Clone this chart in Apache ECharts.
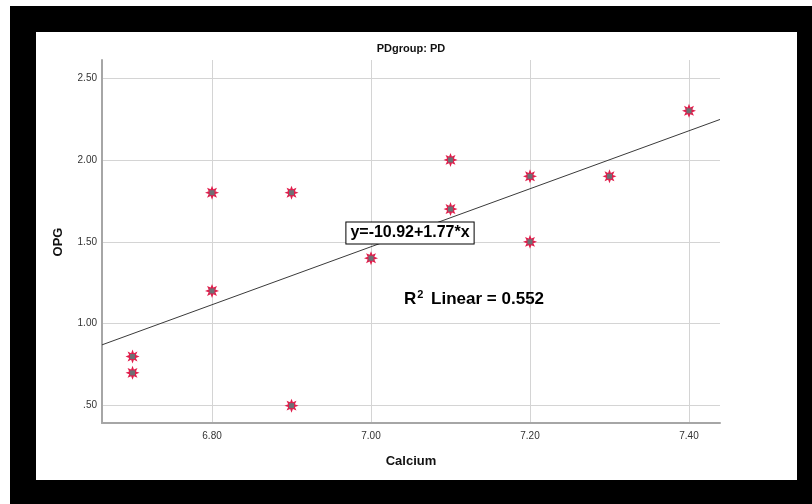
<!DOCTYPE html>
<html>
<head>
<meta charset="utf-8">
<script src="https://cdn.jsdelivr.net/npm/echarts@6/dist/echarts.min.js"></script>
<style>
  html, body { margin: 0; padding: 0; background: #ffffff; }
  #chart { width: 812px; height: 504px; }
</style>
</head>
<body>
<div id="chart"></div>
<script>
// ---- data ----
const calcium = [6.7, 6.7, 6.8, 6.8, 6.9, 6.9, 7.0, 7.1, 7.1, 7.2, 7.2, 7.3, 7.4];
const opg     = [0.8, 0.7, 1.8, 1.2, 1.8, 0.5, 1.4, 2.0, 1.7, 1.9, 1.5, 1.9, 2.3];
const xTicks = [6.8, 7.0, 7.2, 7.4];
const yTicks = [0.5, 1.0, 1.5, 2.0, 2.5];
const fitIntercept = -10.92;
const fitSlope = 1.77;
const rSquared = 0.552;
const titleText = 'PDgroup: PD';
const xName = 'Calcium';
const yName = 'OPG';

const xMin = 6.6616, xMax = 7.439;
const yMin = 0.394, yMax = 2.61;

const points = calcium.map((x, i) => [x, opg[i]]);
const fitLine = [xMin, xMax].map(x => [x, fitIntercept + fitSlope * x]);

// 8-pointed star symbol
function starPath(n, rOuter, rInner) {
  let d = '';
  for (let i = 0; i < n * 2; i++) {
    const r = i % 2 === 0 ? rOuter : rInner;
    const a = Math.PI * i / n - Math.PI / 2;
    const px = (r * Math.cos(a)).toFixed(3), py = (r * Math.sin(a)).toFixed(3);
    d += (i === 0 ? 'M' : 'L') + px + ' ' + py + ' ';
  }
  return 'path://' + d + 'Z';
}
const star = starPath(8, 10, 5.2);

const chart = echarts.init(document.getElementById('chart'), null, { renderer: 'canvas' });

const fmtY = v => v.toFixed(2).replace(/^0\./, '.');

chart.setOption({
  animation: false,
  backgroundColor: '#ffffff',
  grid: { left: 102, right: 92, top: 60, bottom: 81, containLabel: false },
  xAxis: {
    type: 'value', min: xMin, max: xMax,
    axisLine: { show: true, lineStyle: { color: '#a6a6a6', width: 2 } },
    axisTick: { show: false, customValues: xTicks },
    axisLabel: { customValues: xTicks, formatter: v => v.toFixed(2), color: '#333', fontSize: 10, fontFamily: 'Liberation Sans, Arial, sans-serif', margin: 8 },
    splitLine: { show: true, lineStyle: { color: '#d4d4d4', width: 1 } }
  },
  yAxis: {
    type: 'value', min: yMin, max: yMax,
    axisLine: { show: true, lineStyle: { color: '#a6a6a6', width: 2 } },
    axisTick: { show: false, customValues: yTicks },
    axisLabel: { customValues: yTicks, formatter: fmtY, color: '#333', fontSize: 10, fontFamily: 'Liberation Sans, Arial, sans-serif', margin: 5 },
    splitLine: { show: true, lineStyle: { color: '#d4d4d4', width: 1 } }
  },
  series: [
    {
      type: 'line', data: fitLine, symbol: 'none', silent: true,
      lineStyle: { color: '#3a3a3a', width: 1 }, z: 2
    },
    {
      type: 'scatter', data: points, symbol: star, symbolSize: 14,
      itemStyle: { color: '#e01e4c', opacity: 1 }, z: 3
    },
    {
      type: 'scatter', data: points, symbol: 'rect', symbolSize: 5,
      itemStyle: { color: '#6f6f74', opacity: 1 }, z: 4
    }
  ],
  graphic: [
    { type: 'rect', shape: { x: 10, y: 6, width: 802, height: 498 }, style: { fill: '#000' }, z: -10, silent: true },
    { type: 'rect', shape: { x: 36, y: 32, width: 761, height: 448 }, style: { fill: '#fff' }, z: -9, silent: true },
    { type: 'text', x: 411, y: 49, style: { text: titleText, fill: '#111', font: 'bold 11px "Liberation Sans Narrow", "Liberation Sans", Arial, sans-serif', align: 'center', verticalAlign: 'middle' }, z: 10 },
    { type: 'text', x: 411, y: 461, style: { text: xName, fill: '#111', font: 'bold 13px "Liberation Sans", Arial, sans-serif', align: 'center', verticalAlign: 'middle' }, z: 10 },
    { type: 'text', x: 58, y: 242, rotation: Math.PI / 2, style: { text: yName, fill: '#111', font: 'bold 13px "Liberation Sans", Arial, sans-serif', align: 'center', verticalAlign: 'middle' }, z: 10 },
    { type: 'text', x: 410, y: 233, style: {
        text: 'y=' + fitIntercept.toFixed(2) + '+' + fitSlope.toFixed(2) + '*x',
        fill: '#000', font: 'bold 16px "Liberation Sans", Arial, sans-serif', align: 'center', verticalAlign: 'middle',
        backgroundColor: '#fff', borderColor: '#000', borderWidth: 1, padding: [3, 4, 2, 4]
      }, z: 10 },
    { type: 'text', x: 404, y: 298, style: {
        text: '{b|R}{s|2}{b| Linear = ' + rSquared.toFixed(3) + '}',
        align: 'left', verticalAlign: 'middle',
        rich: {
          b: { fill: '#000', font: 'bold 17px "Liberation Sans", Arial, sans-serif', verticalAlign: 'bottom', lineHeight: 20 },
          s: { fill: '#000', font: 'bold 11px "Liberation Sans", Arial, sans-serif', verticalAlign: 'bottom', lineHeight: 20, padding: [0, 3, 8, 1] }
        }
      }, z: 10 }
  ]
});
</script>
</body>
</html>
